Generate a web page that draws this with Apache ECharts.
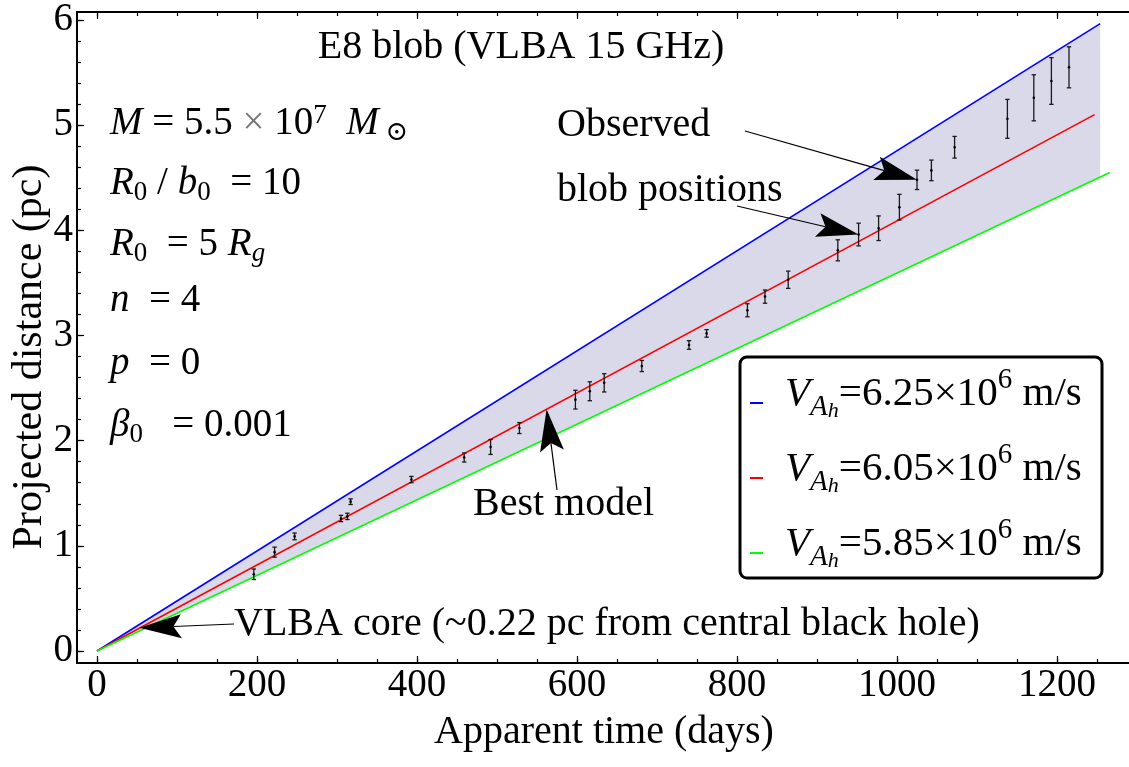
<!DOCTYPE html>
<html>
<head>
<meta charset="utf-8">
<script src="https://cdn.jsdelivr.net/npm/echarts@6/dist/echarts.min.js"></script>
<style>
html, body { margin: 0; padding: 0; background: #fff; }
#main { width: 1129px; height: 767px; }
</style>
</head>
<body>
<div id="main"></div>
<script>
// tick values
var xTicks = [0, 200, 400, 600, 800, 1000, 1200];
var xMinor = [0, 50, 100, 150, 200, 250, 300, 350, 400, 450, 500, 550, 600, 650, 700, 750, 800, 850, 900, 950, 1000, 1050, 1100, 1150, 1200, 1250];
var yTicks = [0, 1, 2, 3, 4, 5, 6];
var yMinor = [0, 0.2, 0.4, 0.6, 0.8, 1, 1.2, 1.4, 1.6, 1.8, 2, 2.2, 2.4, 2.6, 2.8, 3, 3.2, 3.4, 3.6, 3.8, 4, 4.2, 4.4, 4.6, 4.8, 5, 5.2, 5.4, 5.6, 5.8, 6];

// observed blob positions (days, pc, error)
var obsDays = [196, 222, 247, 305, 313, 317, 393, 459, 492, 528, 598, 616, 634, 681, 740, 762, 813, 835, 864, 926, 952, 977, 1003, 1025, 1043, 1072, 1138, 1171, 1193, 1215];
var obsDist = [0.73, 0.94, 1.09, 1.26, 1.28, 1.42, 1.63, 1.84, 1.94, 2.12, 2.39, 2.47, 2.55, 2.71, 2.91, 3.02, 3.24, 3.37, 3.53, 3.81, 3.96, 4.02, 4.22, 4.48, 4.57, 4.79, 5.06, 5.26, 5.42, 5.55];
var obsErr = [0.05, 0.048, 0.032, 0.03, 0.03, 0.027, 0.03, 0.043, 0.071, 0.052, 0.089, 0.09, 0.087, 0.053, 0.041, 0.036, 0.062, 0.063, 0.082, 0.1, 0.108, 0.117, 0.122, 0.092, 0.098, 0.103, 0.185, 0.219, 0.222, 0.195];

// model curves
var blueDays = [0, 1254], blueDist = [0, 5.965];
var redDays = [0, 1247], redDist = [0, 5.10];
var greenDays = [0, 1266], greenDist = [0, 4.55];
var bandDays = [0, 1254], bandLow = [0, 4.51], bandHigh = [0, 5.965];

var legendVals = ['6.25', '6.05', '5.85'];
var legendColors = ['#0000ff', '#ff0000', '#00ff00'];

// annotation arrows: tip in data coords, tail in pixels
var arrowTips = [[1025, 4.48], [952, 3.96], [562, 2.298], [53, 0.22]];
var arrowTails = [[745, 131], [737, 206], [557, 490], [234, 624]];

var FONT = '"Liberation Serif", "Times New Roman", "DejaVu Serif", serif';

function pairs(xs, ys) {
	var out = [];
	for (var i = 0; i < xs.length; i++) out.push([xs[i], ys[i]]);
	return out;
}

var obsData = [];
for (var i = 0; i < obsDays.length; i++) obsData.push([obsDays[i], obsDist[i], obsErr[i]]);

function renderBand(params, api) {
	if (params.dataIndex !== 0) return null;
	var pts = [];
	for (var i = 0; i < bandDays.length; i++) pts.push(api.coord([bandDays[i], bandHigh[i]]));
	for (var j = bandDays.length - 1; j >= 0; j--) pts.push(api.coord([bandDays[j], bandLow[j]]));
	return { type: 'polygon', shape: { points: pts }, style: { fill: '#d9d9ea' } };
}

function renderErr(params, api) {
	var x = api.value(0), y = api.value(1), e = api.value(2);
	var c = api.coord([x, y]), hi = api.coord([x, y + e]), lo = api.coord([x, y - e]);
	var st = { stroke: '#1a1a1a', lineWidth: 1.3 };
	return {
		type: 'group',
		children: [
			{ type: 'line', shape: { x1: c[0], y1: lo[1], x2: c[0], y2: hi[1] }, style: st },
			{ type: 'line', shape: { x1: c[0] - 2.2, y1: hi[1], x2: c[0] + 2.2, y2: hi[1] }, style: st },
			{ type: 'line', shape: { x1: c[0] - 2.2, y1: lo[1], x2: c[0] + 2.2, y2: lo[1] }, style: st },
			{ type: 'circle', shape: { cx: c[0], cy: c[1], r: 1.3 }, style: { fill: '#000' } }
		]
	};
}

function lineSeries(name, xs, ys, color) {
	return {
		name: name, type: 'line', data: pairs(xs, ys), showSymbol: false, silent: true,
		lineStyle: { color: color, width: 1.6 }, z: 3
	};
}

function mkX(pos, ticks, len, showLine) {
	return {
		type: 'value', min: -25, max: 1290, position: pos,
		axisLine: { show: showLine, onZero: false, lineStyle: { color: '#000', width: 2 } },
		axisTick: { inside: true, length: len, customValues: ticks, lineStyle: { color: '#000', width: 1.2 } },
		axisLabel: { show: false },
		splitLine: { show: false }
	};
}
function mkY(ticks, len, showLine) {
	return {
		type: 'value', min: -0.114, max: 6.076, position: 'left',
		axisLine: { show: showLine, onZero: false, lineStyle: { color: '#000', width: 2 } },
		axisTick: { inside: true, length: len, customValues: ticks, lineStyle: { color: '#000', width: 1.2 } },
		axisLabel: { show: false },
		splitLine: { show: false }
	};
}

function plain(v) { return String(v); }

var xMain = mkX('bottom', xTicks, 7, true);
xMain.axisLabel = { show: true, customValues: xTicks, formatter: plain, fontFamily: FONT, fontSize: 39, color: '#000', margin: 3 };
var yMain = mkY(yTicks, 7, true);
yMain.axisLabel = { show: true, customValues: yTicks, formatter: plain, fontFamily: FONT, fontSize: 39, color: '#000', margin: 4 };

var chart = echarts.init(document.getElementById('main'));
chart.setOption({
	animation: false,
	backgroundColor: '#fff',
	grid: { left: 77, top: 12, right: -3, bottom: 104, containLabel: false },
	xAxis: [xMain, mkX('bottom', xMinor, 4, false), mkX('top', xTicks, 7, true), mkX('top', xMinor, 4, false)],
	yAxis: [yMain, mkY(yMinor, 4, false)],
	series: [
		{ type: 'custom', renderItem: renderBand, data: [[0, 0]], silent: true, z: 1 },
		lineSeries('blue', blueDays, blueDist, legendColors[0]),
		lineSeries('red', redDays, redDist, legendColors[1]),
		lineSeries('green', greenDays, greenDist, legendColors[2]),
		{ type: 'custom', renderItem: renderErr, data: obsData, silent: true, z: 5 }
	]
});

// --- annotations ---
var base = { fontFamily: FONT, fontSize: 39, lineHeight: 44, verticalAlign: 'middle', fill: '#000' };
function ext(o, extra) {
	var r = {};
	for (var k in o) r[k] = o[k];
	for (var k2 in extra) r[k2] = extra[k2];
	return r;
}
var mathRich = {
	t: base,
	i: ext(base, { fontStyle: 'italic' }),
	g: ext(base, { fill: '#777' }),
	sp: ext(base, { width: 6 }),
	sub: { fontFamily: FONT, fontSize: 27, lineHeight: 26, verticalAlign: 'bottom', fill: '#000' },
	subi: { fontFamily: FONT, fontSize: 27, fontStyle: 'italic', lineHeight: 26, verticalAlign: 'bottom', fill: '#000' },
	sup: { fontFamily: FONT, fontSize: 27, lineHeight: 26, verticalAlign: 'top', fill: '#000' }
};
var paramRows = [
	'{i|M}{t| = 5.5 }{g|×}{t| 10}{sup|7}{t|  }{i|M}{sub| ⊙}',
	'{i|R}{sub|0}{t| / }{i|b}{sub|0}{t|  = 10}',
	'{i|R}{sub|0}{t|  = 5 }{i|R}{subi|g}',
	'{i|n}{t|  = 4}',
	'{i|p}{t|  = 0}',
	'{i|β}{sub|0}{t|   = 0.001}'
];
var paramY = [124, 184, 245, 301, 364, 426];

var lb = { fontFamily: FONT, fontSize: 41, lineHeight: 56, verticalAlign: 'middle', fill: '#000' };
var legRich = {
	t: lb,
	v: ext(lb, { fontStyle: 'italic' }),
	a: { fontFamily: FONT, fontSize: 29, fontStyle: 'italic', lineHeight: 28, verticalAlign: 'bottom', fill: '#000' },
	h: { fontFamily: FONT, fontSize: 22, fontStyle: 'italic', lineHeight: 4, verticalAlign: 'bottom', fill: '#000' },
	s: { fontFamily: FONT, fontSize: 29, lineHeight: 40, verticalAlign: 'top', fill: '#000' }
};
var legendY = [403, 478, 553];

function txt(x, y, s, size, align, rot) {
	return {
		type: 'text', x: x, y: y, rotation: rot || 0, z: 100,
		style: { text: s, fontFamily: FONT, fontSize: size, fill: '#000', align: align || 'left', verticalAlign: 'middle' }
	};
}

var g = [];
g.push(txt(521, 47, 'E8 blob (VLBA 15 GHz)', 40, 'center'));
g.push(txt(557, 125, 'Observed', 40));
g.push(txt(557, 190, 'blob positions', 40));
g.push(txt(473, 504, 'Best model', 40));
g.push(txt(234, 624, 'VLBA core (~0.22 pc from central black hole)', 40));
g.push(txt(604, 732, 'Apparent time (days)', 40, 'center'));
g.push(txt(30, 357, 'Projected distance (pc)', 42, 'center', Math.PI / 2));

for (var r = 0; r < paramRows.length; r++) {
	g.push({ type: 'text', x: 110, y: paramY[r], z: 100,
		style: { text: paramRows[r], rich: mathRich, align: 'left', verticalAlign: 'middle', fontFamily: FONT, fontSize: 39 } });
}

// legend box
g.push({ type: 'rect', z: 100, shape: { x: 740, y: 357, width: 362, height: 221, r: 7 },
	style: { fill: '#fff', stroke: '#000', lineWidth: 3 } });
for (var l = 0; l < legendVals.length; l++) {
	g.push({ type: 'line', z: 101, shape: { x1: 750, y1: legendY[l], x2: 763, y2: legendY[l] },
		style: { stroke: legendColors[l], lineWidth: 2 } });
	g.push({ type: 'text', z: 101, x: 785, y: legendY[l] - 9,
		style: { text: '{v|V}{a|A}{h|h}{t|=' + legendVals[l] + '×10}{s|6}{t| m/s}', rich: legRich,
			align: 'left', verticalAlign: 'middle', fontFamily: FONT, fontSize: 41 } });
}

// arrows
for (var a = 0; a < arrowTips.length; a++) {
	var tip = chart.convertToPixel({ xAxisIndex: 0, yAxisIndex: 0 }, arrowTips[a]);
	var tail = arrowTails[a];
	var dx = tip[0] - tail[0], dy = tip[1] - tail[1];
	var len = Math.sqrt(dx * dx + dy * dy);
	var ux = dx / len, uy = dy / len, nx = -uy, ny = ux;
	var bx = tip[0] - 42 * ux, by = tip[1] - 42 * uy;
	var notch = [tip[0] - 34 * ux, tip[1] - 34 * uy];
	g.push({ type: 'line', z: 102, shape: { x1: tail[0], y1: tail[1], x2: notch[0], y2: notch[1] },
		style: { stroke: '#000', lineWidth: 1.2 } });
	g.push({ type: 'polygon', z: 102,
		shape: { points: [tip, [bx + 12 * nx, by + 12 * ny], notch, [bx - 12 * nx, by - 12 * ny]] },
		style: { fill: '#000' } });
}

chart.setOption({ graphic: g });
</script>
</body>
</html>
